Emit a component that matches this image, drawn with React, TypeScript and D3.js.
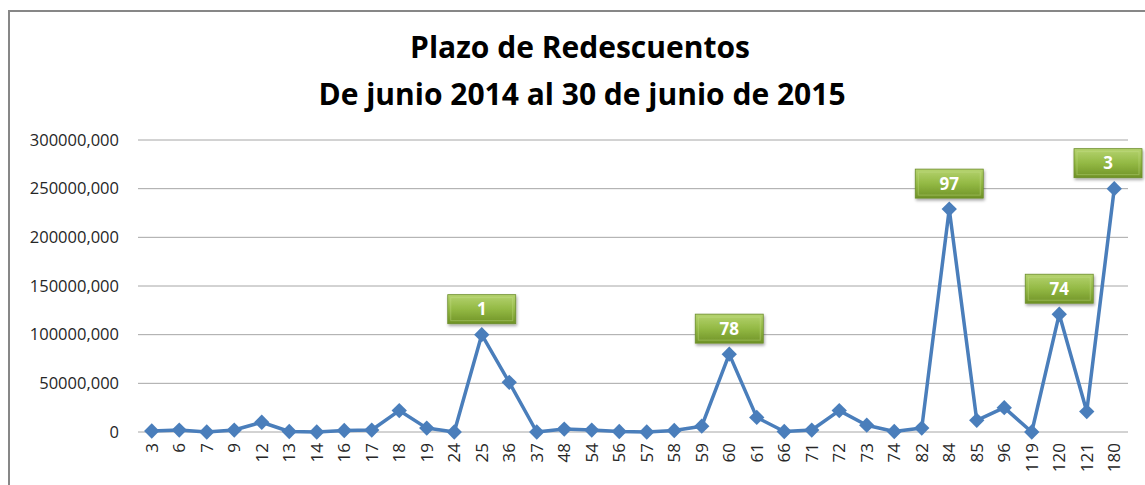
import React, { useEffect, useRef } from 'react';
import * as d3 from 'd3';

// montos en miles
const plazos = ['3', '6', '7', '9', '12', '13', '14', '16', '17', '18', '19', '24', '25', '36', '37', '48', '54', '56', '57', '58', '59', '60', '61', '66', '71', '72', '73', '74', '82', '84', '85', '96', '119', '120', '121', '180'];
const montos = [1000, 2000, 0, 2000, 10000, 500, 0, 1500, 2000, 22000, 4000, 0, 100000, 51000, 0, 3000, 2000, 500, 0, 1500, 6000, 80000, 15000, 500, 2000, 22000, 7000, 500, 4000, 229000, 12000, 25000, 0, 121000, 21000, 250000];
const etiquetas = [
  { plazo: '25', texto: '1' },
  { plazo: '60', texto: '78' },
  { plazo: '84', texto: '97' },
  { plazo: '120', texto: '74' },
  { plazo: '180', texto: '3' },
];
const yTicks = [0, 50000, 100000, 150000, 200000, 250000, 300000];

const App = () => {
  const ref = useRef<SVGSVGElement>(null);

  useEffect(() => {
    const svg = d3.select(ref.current);
    svg.selectAll('*').remove();

    const width = 1145;
    const height = 485;
    const left = 138;
    const right = 1128;
    const top = 140;
    const bottom = 432;
    const font = 'Open Sans, Noto Sans, sans-serif';

    const defs = svg.append('defs');
    const grad = defs.append('linearGradient').attr('id', 'verde').attr('x1', 0).attr('y1', 0).attr('x2', 0).attr('y2', 1);
    grad.append('stop').attr('offset', '0%').attr('stop-color', '#b5d36f');
    grad.append('stop').attr('offset', '50%').attr('stop-color', '#93b944');
    grad.append('stop').attr('offset', '100%').attr('stop-color', '#6f9226');
    const sh = defs.append('filter').attr('id', 'sombra').attr('x', '-20%').attr('y', '-20%').attr('width', '150%').attr('height', '160%');
    sh.append('feDropShadow').attr('dx', 1).attr('dy', 2).attr('stdDeviation', 1.5).attr('flood-color', '#000').attr('flood-opacity', 0.35);

    svg.append('rect').attr('width', width).attr('height', height).attr('fill', '#fff');
    // borde del gráfico (cortado a la derecha y abajo)
    svg.append('rect')
      .attr('x', 9).attr('y', 11).attr('width', width + 20).attr('height', height + 20)
      .attr('fill', 'none').attr('stroke', '#878787').attr('stroke-width', 2);

    const title = svg.append('text').attr('text-anchor', 'middle').attr('font-family', font)
      .attr('font-weight', 'bold').attr('font-size', 30).attr('fill', '#000');
    title.append('tspan').attr('x', 580).attr('y', 58).text('Plazo de Redescuentos');
    title.append('tspan').attr('x', 582).attr('y', 105).text('De junio 2014 al 30 de junio de 2015');

    const x = d3.scaleBand().domain(plazos).range([left, right]);
    const y = d3.scaleLinear().domain([0, 300000]).range([bottom, top]);

    svg.append('g').selectAll('line').data(yTicks).enter().append('line')
      .attr('x1', left).attr('x2', right)
      .attr('y1', d => y(d)).attr('y2', d => y(d))
      .attr('stroke', '#a6a6a6').attr('stroke-width', 1);

    svg.append('g').selectAll('text').data(yTicks).enter().append('text')
      .attr('x', 119).attr('y', d => y(d)).attr('dy', '0.35em')
      .attr('text-anchor', 'end').attr('font-family', font).attr('font-size', 16.5).attr('fill', '#262626')
      .text(d => d === 0 ? '0' : d3.format('d')(d) + ',000');

    svg.append('g').selectAll('text').data(plazos).enter().append('text')
      .attr('transform', d => `translate(${(x(d) as number) + x.bandwidth() / 2 + 6},443) rotate(-90)`)
      .attr('text-anchor', 'end').attr('font-family', font).attr('font-size', 17).attr('fill', '#262626')
      .text(d => d);

    const pts = plazos.map((p, i) => ({ p, v: montos[i] }));
    const cx = (d: { p: string }) => (x(d.p) as number) + x.bandwidth() / 2;

    const line = d3.line<{ p: string; v: number }>().x(cx).y(d => y(d.v));
    svg.append('path').datum(pts).attr('d', line)
      .attr('fill', 'none').attr('stroke', '#4a7ebb').attr('stroke-width', 3.5).attr('stroke-linejoin', 'round');

    svg.append('g').selectAll('path').data(pts).enter().append('path')
      .attr('d', d3.symbol().type(d3.symbolDiamond2).size(150)())
      .attr('transform', d => `translate(${cx(d)},${y(d.v)})`)
      .attr('fill', '#4a7ebb');

    const bw = 68;
    const bh = 29;
    const g = svg.append('g').selectAll('g').data(etiquetas).enter().append('g')
      .attr('transform', d => {
        const i = plazos.indexOf(d.plazo);
        let bx = cx({ p: d.plazo }) - bw / 2;
        bx = Math.min(bx, 1142 - bw);
        const by = y(montos[i]) - 11 - bh;
        return `translate(${bx},${by})`;
      });
    g.append('rect').attr('width', bw).attr('height', bh)
      .attr('fill', 'url(#verde)').attr('stroke', '#6b8d2a').attr('stroke-width', 0.8)
      .attr('filter', 'url(#sombra)');
    g.append('rect').attr('x', 3).attr('y', 3).attr('width', bw - 6).attr('height', bh - 6)
      .attr('fill', 'none').attr('stroke', '#c9e08e').attr('stroke-opacity', 0.4).attr('stroke-width', 1);
    g.append('text').attr('x', bw / 2).attr('y', bh / 2).attr('dy', '0.36em')
      .attr('text-anchor', 'middle').attr('font-family', font).attr('font-weight', 'bold')
      .attr('font-size', 17).attr('fill', '#fff').text(d => d.texto);
  }, []);

  return <svg ref={ref} width={1145} height={485} style={{ position: 'absolute', left: 0, top: 0 }}></svg>;
};

export default App;
